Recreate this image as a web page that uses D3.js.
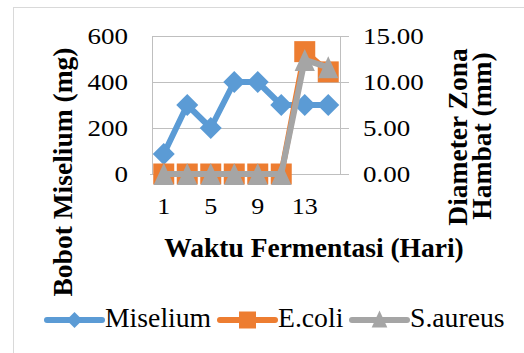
<!DOCTYPE html>
<html>
<head>
<meta charset="utf-8">
<script src="https://cdn.jsdelivr.net/npm/d3@7/dist/d3.min.js"></script>
<style>
html,body{margin:0;padding:0;background:#fff;}
svg text{font-family:"Liberation Serif","Times New Roman",serif;fill:#000;}
</style>
</head>
<body>
<svg id="c" width="524" height="353"></svg>
<script>
const days = [1, 3, 5, 7, 9, 11, 13, 15];
const miselium = [87, 300, 200, 400, 400, 300, 300, 300];
const ecoli = [0, 0, 0, 0, 0, 0, 13.3, 11.1];
const saureus = [0, 0, 0, 0, 0, 0, 12.4, 11.6];
const xTickLabels = [1, 5, 9, 13];
const leftTicks = [0, 200, 400, 600];
const rightTicks = [0, 5, 10, 15];
const seriesNames = ["Miselium", "E.coli", "S.aureus"];
const colors = ["#5b9bd5", "#ed7d31", "#a5a5a5"];

// marker path generators (half-size h)
function marker(i, h) {
  if (i === 0) return `M0,${-h}L${h},0L0,${h}L${-h},0Z`;
  if (i === 1) return `M${-h},${-h}H${h}V${h}H${-h}Z`;
  return `M0,${-h}L${h * 0.92},${h}L${-h * 0.92},${h}Z`;
}

const svg = d3.select("#c");
svg.append("rect").attr("x", 13.5).attr("y", 7.5).attr("width", 600).attr("height", 400)
  .attr("fill", "none").attr("stroke", "#d9d9d9").attr("stroke-width", 1);

const L = 152, R = 340, T = 36, B = 174;
const x = d3.scaleBand().domain(days).range([L, R]);
const yL = d3.scaleLinear().domain([0, 600]).range([B, T]);
const yR = d3.scaleLinear().domain([0, 15]).range([B, T]);
const grid = "#bfbfbf";

const gl = svg.append("g").attr("transform", `translate(${L},0)`)
  .call(d3.axisLeft(yL).tickValues(leftTicks).tickSize(-(R - L)).tickFormat(d => d).tickPadding(24));
gl.select(".domain").remove();
gl.selectAll(".tick line").attr("stroke", grid);
gl.selectAll(".tick text").attr("font-size", 27).attr("transform", "scale(1,0.86)");
svg.append("line").attr("x1", L + 0.5).attr("x2", L + 0.5).attr("y1", T).attr("y2", B).attr("stroke", grid);
svg.append("line").attr("x1", L - 2).attr("x2", L).attr("y1", B + 0.5).attr("y2", B + 0.5).attr("stroke", grid);

const gr = svg.append("g").attr("transform", `translate(${R},0)`)
  .call(d3.axisRight(yR).tickValues(rightTicks).tickSize(9).tickFormat(d3.format(".2f")).tickPadding(14).tickSizeOuter(0));
gr.select(".domain").attr("stroke", grid);
gr.selectAll(".tick line").attr("stroke", grid);
gr.selectAll(".tick text").attr("font-size", 27).attr("transform", "scale(1,0.86)");

const gx = svg.append("g").attr("transform", `translate(0,${B})`)
  .call(d3.axisBottom(x).tickValues(xTickLabels).tickSize(0).tickPadding(0));
gx.select(".domain").remove();
gx.selectAll(".tick text").attr("font-size", 26).attr("y", 0).attr("dy", 0)
  .attr("transform", "translate(0,40) scale(1,0.92)");

const data = [
  {vals: miselium, y: yL},
  {vals: ecoli, y: yR},
  {vals: saureus, y: yR}
];
data.forEach((s, i) => {
  const cx = j => x(days[j]) + x.bandwidth() / 2;
  const line = d3.line().x((d, j) => cx(j)).y(d => s.y(d));
  svg.append("path").datum(s.vals).attr("d", line).attr("fill", "none")
    .attr("stroke", colors[i]).attr("stroke-width", 6).attr("stroke-linejoin", "round");
  svg.append("g").selectAll("path").data(s.vals).join("path")
    .attr("transform", (d, j) => `translate(${cx(j)},${s.y(d)})`)
    .attr("d", marker(i, [11, 10.5, 11][i]))
    .attr("fill", colors[i]);
});

svg.append("text").attr("transform", "translate(72,172) rotate(-90)").attr("text-anchor", "middle")
  .attr("font-size", 27.5).attr("font-weight", "bold").text("Bobot Miselium (mg)");
svg.append("text").attr("transform", "translate(467,137) rotate(-90)").attr("text-anchor", "middle")
  .attr("font-size", 27.5).attr("font-weight", "bold").text("Diameter Zona");
svg.append("text").attr("transform", "translate(491,136) rotate(-90)").attr("text-anchor", "middle")
  .attr("font-size", 27.5).attr("font-weight", "bold").text("Hambat (mm)");
svg.append("text").attr("x", 314).attr("y", 257).attr("text-anchor", "middle")
  .attr("font-size", 27.5).attr("font-weight", "bold").text("Waktu Fermentasi (Hari)");

const legX = [47, 220, 352];
const legY = 320;
seriesNames.forEach((n, i) => {
  const g = svg.append("g").attr("transform", `translate(${legX[i]},${legY})`);
  g.append("line").attr("x1", 0).attr("x2", 55).attr("y1", 0).attr("y2", 0)
    .attr("stroke", colors[i]).attr("stroke-width", 6).attr("stroke-linecap", "round");
  g.append("path").attr("transform", `translate(27.5,${i === 2 ? -1 : 0})`)
    .attr("d", marker(i, [8, 8.5, 8.5][i])).attr("fill", colors[i]);
  g.append("text").attr("x", 58).attr("y", 6.5).attr("font-size", 27.7).text(n);
});
</script>
</body>
</html>
